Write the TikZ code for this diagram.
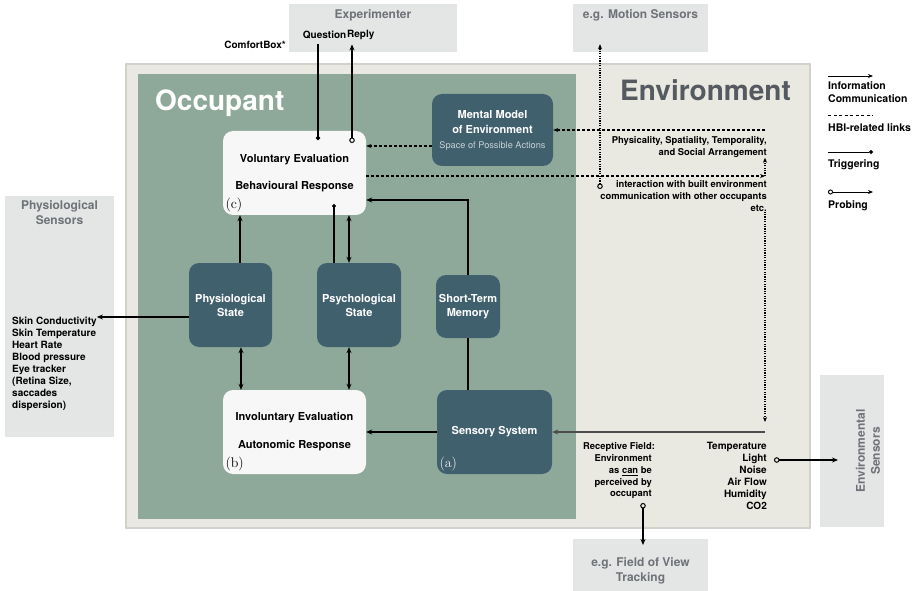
\documentclass[tikz,border=0pt]{standalone}
\usepackage{fontspec}
\setsansfont{TeX Gyre Heros}
\usetikzlibrary{arrows.meta}

\definecolor{envbg}{HTML}{E9E8E1}
\definecolor{envline}{HTML}{D2D2CC}
\definecolor{occbg}{HTML}{8EA99A}
\definecolor{stateblue}{HTML}{41606E}
\definecolor{evalwhite}{HTML}{F7F7F7}
\definecolor{sensorgray}{HTML}{E4E5E5}
\definecolor{sensortext}{HTML}{6F7378}
\definecolor{envtitle}{HTML}{555A61}
\definecolor{actiontext}{HTML}{C6CFD3}

\tikzset{
  statebox/.style={fill=stateblue, rounded corners=10pt, text=white, align=center, inner sep=0pt,
    font=\sffamily\bfseries\fontsize{11}{14}\selectfont},
  evalbox/.style={fill=evalwhite, rounded corners=10pt, align=center, inner sep=0pt,
    minimum width=143pt, minimum height=84pt, font=\sffamily\bfseries\fontsize{11}{13}\selectfont},
  sensorbox/.style={fill=sensorgray, inner sep=0pt},
  sensortitle/.style={text=sensortext, align=center, inner sep=0pt,
    font=\sffamily\bfseries\fontsize{12}{15}\selectfont},
  envlabel/.style={align=right, inner sep=0pt, font=\sffamily\bfseries\fontsize{9.4}{11.8}\selectfont},
  smalllabel/.style={inner sep=0pt, font=\sffamily\bfseries\fontsize{10}{12}\selectfont},
  legendlabel/.style={align=left, inner sep=0pt, anchor=north west,
    font=\sffamily\bfseries\fontsize{10.5}{13}\selectfont},
  casetag/.style={inner sep=2.5pt, font=\rmfamily\fontsize{14}{14}\selectfont},
  link/.style={line width=1.6pt, -{Stealth[length=6pt,width=5pt]}},
  thinlink/.style={line width=1.1pt, -{Stealth[length=6pt,width=5pt]}},
  both/.style={line width=1.6pt, {Stealth[length=6pt,width=5pt]}-{Stealth[length=6pt,width=5pt]}},
  plain/.style={line width=1.6pt},
  trigger/.style={line width=1.6pt, -{Circle[length=4pt]}},
  probe/.style={line width=1.6pt, {Circle[open,length=5.5pt,line width=1pt]}-{Stealth[length=6pt,width=5pt]}},
  hbi/.style={line width=1.2pt, dash pattern=on 3pt off 2pt, -{Stealth[length=5pt,width=4pt]}},
  hbidot/.style={line width=1.3pt, dash pattern=on 1.2pt off 1.2pt, -{Stealth[length=5pt,width=4pt]}},
}

\begin{document}
\begin{tikzpicture}[x=1pt,y=-1pt]
\useasboundingbox (0,0) rectangle (919,591);

% environment and occupant areas
\filldraw[fill=envbg, draw=envline, line width=1.2pt] (126,64) rectangle (810,528);
\fill[occbg] (138,74) rectangle (576,519);
\node[anchor=west, inner sep=0pt, text=white, font=\sffamily\bfseries\fontsize{28}{30}\selectfont] (occtitle) at (155,103) {Occupant};
\node[anchor=east, inner sep=0pt, text=envtitle, font=\sffamily\bfseries\fontsize{28}{30}\selectfont] (envtitle) at (791,90) {Environment};

% sensor boxes around
\node[sensorbox, minimum width=168pt, minimum height=48pt] (expbox) at (373,28) {};
\node[sensortitle] (exptitle) at (373,15) {Experimenter};
\node[smalllabel, anchor=east, inner ysep=5pt] (question) at (346.5,34.5) {Question};
\node[smalllabel, anchor=west, inner ysep=5pt] (reply) at (347,34.5) {Reply};
\node[smalllabel, anchor=east] (comfort) at (286,45) {ComfortBox*};

\node[sensorbox, minimum width=135pt, minimum height=48pt] (motionbox) at (640.5,28) {};
\node[sensortitle] (motion) at (640.5,15) {e.g. Motion Sensors};

\node[sensorbox, minimum width=135pt, minimum height=54pt] (fovbox) at (640.5,566) {};
\node[sensortitle] (fov) at (640.5,570.5) {e.g. Field of View\\Tracking};

\node[sensorbox, minimum width=109pt, minimum height=241pt] (physbox) at (59.5,316.5) {};
\node[sensortitle] (phystitle) at (59.5,212.5) {Physiological\\Sensors};
\node[smalllabel, anchor=north west, align=left] (physlist) at (12,317)
  {Skin Conductivity\\Skin Temperature\\Heart Rate\\Blood pressure\\Eye tracker\\(Retina Size,\\saccades\\dispersion)};

\node[sensorbox, minimum width=64pt, minimum height=152pt] (envbox) at (852,451) {};
\node[sensortitle, rotate=90] (envsens) at (868,451) {Environmental\\Sensors};

% occupant
\node[evalbox] (vol) at (294.5,173) {Voluntary Evaluation\\[14pt]Behavioural Response};
\node[casetag, anchor=south west] at (vol.south west) {(c)};
\node[evalbox] (invol) at (294.5,432) {Involuntary Evaluation\\[15pt]Autonomic Response};
\node[casetag, anchor=south west] at (invol.south west) {(b)};
\node[statebox, minimum width=121pt, minimum height=72pt, font=\sffamily\bfseries\fontsize{11}{15}\selectfont] (mental) at (492.5,130)
  {Mental Model\\of Environment\\{\mdseries\fontsize{9.2}{15}\selectfont\color{actiontext}Space of Possible Actions}};
\node[statebox, minimum width=83pt, minimum height=84pt] (physst) at (230.5,305) {Physiological\\State};
\node[statebox, minimum width=84pt, minimum height=84pt] (psych) at (359,305) {Psychological\\State};
\node[statebox, minimum width=64pt, minimum height=63pt] (stm) at (468,306.5) {Short-Term\\Memory};
\node[statebox, minimum width=115pt, minimum height=84pt] (sensory) at (494.5,432) {Sensory System};
\node[casetag, anchor=south west, text=white!90!stateblue] at (sensory.south west) {(a)};

% environment labels
\node[envlabel, anchor=north east] (physicality) at (767,136.5)
  {Physicality, Spatiality, Temporality,\\and Social Arrangement};
\node[envlabel, anchor=north east] (interaction) at (767,180.5)
  {interaction with built environment\\communication with other occupants\\etc.};
\node[envlabel, anchor=north east] (receptive) at (652,442.5)
  {Receptive Field\rlap{:}\\Environment\\as \underline{can} be\\perceived by\\occupant};
\node[envlabel, anchor=north east, font=\sffamily\bfseries\fontsize{10}{12}\selectfont] (temps) at (767,442.5)
  {Temperature\\Light\\Noise\\Air Flow\\Humidity\\CO2};

% experimenter links
\coordinate (qhit) at (318,140);
\coordinate (rhit) at (352,143);
\draw[trigger] (question.south -| qhit) -- (qhit);
\draw[probe] (rhit) -- (reply.south -| rhit);

% HBI links
\coordinate (envmm) at (765,130);
\coordinate (envhbi) at (765,176);
\coordinate (motprobe) at (600,189);
\draw[hbi] (envmm) -- (mental.east |- envmm);
\draw[hbi] (mental.west |- 0,146) -- (vol.east |- 0,146);
\draw[hbi] (vol.east |- envhbi) -- (envhbi);
\draw[hbidot] (envhbi) -- (physicality.south -| envhbi);
\draw[hbidot, {Circle[open,length=5.5pt,line width=1pt]}-{Stealth[length=5pt,width=4pt]}, shorten >=-8pt]
  (motprobe) -- (motionbox.south -| motprobe);

% sensing path
\coordinate (envsense) at (765,432);
\draw[hbidot, shorten >=10pt] (interaction.south -| envsense) -- (envsense);
\draw[link, draw=black!70] (envsense) -- (sensory);
\draw[link] (sensory) -- (invol);
\draw[plain] (sensory.north -| stm) -- (stm);
\draw[link] (stm) |- (vol.east |- 0,200);

% inside the occupant
\coordinate (psyhit) at (334,204);
\draw[thinlink] (physst.north -| 240,0) -- (vol.south -| 240,0);
\draw[trigger, line width=1.1pt] (psych.north -| psyhit) -- (psyhit);
\draw[both] (psych.north -| 349,0) -- (vol.south -| 349,0);
\draw[both] (physst.south -| 241,0) -- (invol.north -| 241,0);
\draw[both] (psych.south -| 349,0) -- (invol.north -| 349,0);
\draw[link] (physst.west |- physlist.north east) -- (physlist.north east);

% probes to the outside
\coordinate (recprobe) at (643,503);
\coordinate (fovhit) at (643,545);
\coordinate (tprobe) at (774,460);
\coordinate (envhit) at (838,460);
\draw[probe] (recprobe) -- (fovhit);
\draw[probe] (tprobe) -- (envhit);

% legend
\node[legendlabel] (lginfo) at (828,81) {Information\\Communication};
\node[legendlabel] (lghbi) at (828,123) {HBI-related links};
\node[legendlabel] (lgtrig) at (828,159) {Triggering};
\node[legendlabel] (lgprobe) at (828,200) {Probing};
\draw[line width=0.9pt, -{Stealth[length=5pt,width=4pt]}] ([yshift=5pt]lginfo.north west) -- +(45,0);
\draw[line width=0.9pt, dash pattern=on 3pt off 2.5pt] ([yshift=8pt]lghbi.north west) -- +(45,0);
\draw[line width=0.9pt, -{Circle[length=4pt]}] ([yshift=7pt]lgtrig.north west) -- +(45,0);
\draw[line width=0.9pt, {Circle[open,length=5pt]}-{Stealth[length=5pt,width=4pt]}] ([yshift=8pt]lgprobe.north west) -- +(45,0);
\end{tikzpicture}
\end{document}
